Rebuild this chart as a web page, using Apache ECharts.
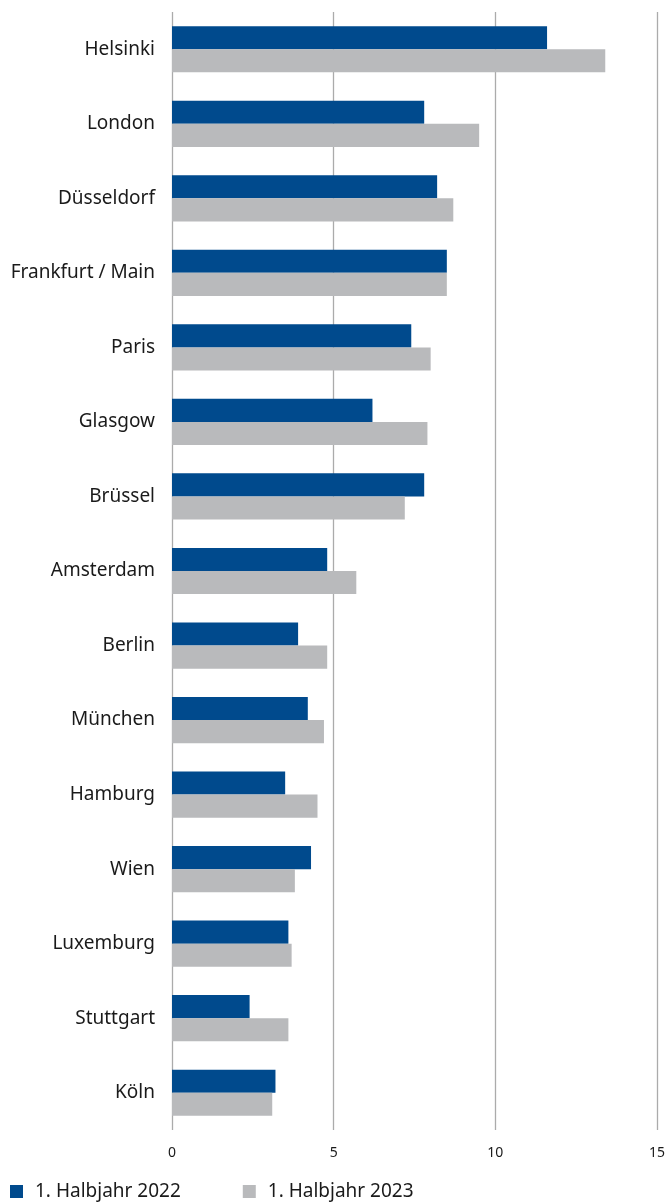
<!DOCTYPE html>
<html>
<head>
<meta charset="utf-8">
<script src="https://cdn.jsdelivr.net/npm/echarts@6/dist/echarts.min.js"></script>
<style>
  html, body { margin: 0; padding: 0; background: #fff; }
  #main { width: 668px; height: 1203px; }
</style>
</head>
<body>
<div id="main"></div>
<script>
var cities = ['Helsinki', 'London', 'Düsseldorf', 'Frankfurt / Main', 'Paris', 'Glasgow', 'Brüssel',
  'Amsterdam', 'Berlin', 'München', 'Hamburg', 'Wien', 'Luxemburg', 'Stuttgart', 'Köln'];
var h1_2022 = [11.6, 7.8, 8.2, 8.5, 7.4, 6.2, 7.8, 4.8, 3.9, 4.2, 3.5, 4.3, 3.6, 2.4, 3.2];
var h1_2023 = [13.4, 9.5, 8.7, 8.5, 8.0, 7.9, 7.2, 5.7, 4.8, 4.7, 4.5, 3.8, 3.7, 3.6, 3.1];
var xTicks = [0, 5, 10, 15];

var font = '"Noto Sans", "Open Sans", sans-serif';

var chart = echarts.init(document.getElementById('main'));
chart.setOption({
  animation: false,
  textStyle: { fontFamily: font },
  grid: { left: 172, right: 11, top: 12, bottom: 73, containLabel: false },
  legend: {
    left: 5,
    bottom: -3,
    itemWidth: 13,
    itemHeight: 13,
    itemGap: 62,
    icon: 'rect',
    textStyle: { fontSize: 19, color: '#1a1a1a', fontFamily: font, padding: [0, 0, 0, 7] },
    data: ['1. Halbjahr 2022', '1. Halbjahr 2023']
  },
  xAxis: {
    type: 'value',
    min: xTicks[0],
    max: xTicks[xTicks.length - 1],
    interval: 5,
    axisLine: { show: false },
    axisTick: { show: false },
    axisLabel: { fontSize: 14, color: '#1a1a1a', margin: 16 },
    splitLine: { lineStyle: { color: '#ababab', width: 1.3 } }
  },
  yAxis: {
    type: 'category',
    data: cities,
    inverse: true,
    axisLine: { show: false },
    axisTick: { show: false },
    axisLabel: { fontSize: 19, color: '#1a1a1a', margin: 17 }
  },
  series: [
    {
      name: '1. Halbjahr 2022',
      type: 'bar',
      data: h1_2022,
      barGap: '0%',
      barCategoryGap: '38%',
      itemStyle: { color: '#004a8d' }
    },
    {
      name: '1. Halbjahr 2023',
      type: 'bar',
      data: h1_2023,
      barCategoryGap: '38%',
      itemStyle: { color: '#b9babc' }
    }
  ]
});
</script>
</body>
</html>
